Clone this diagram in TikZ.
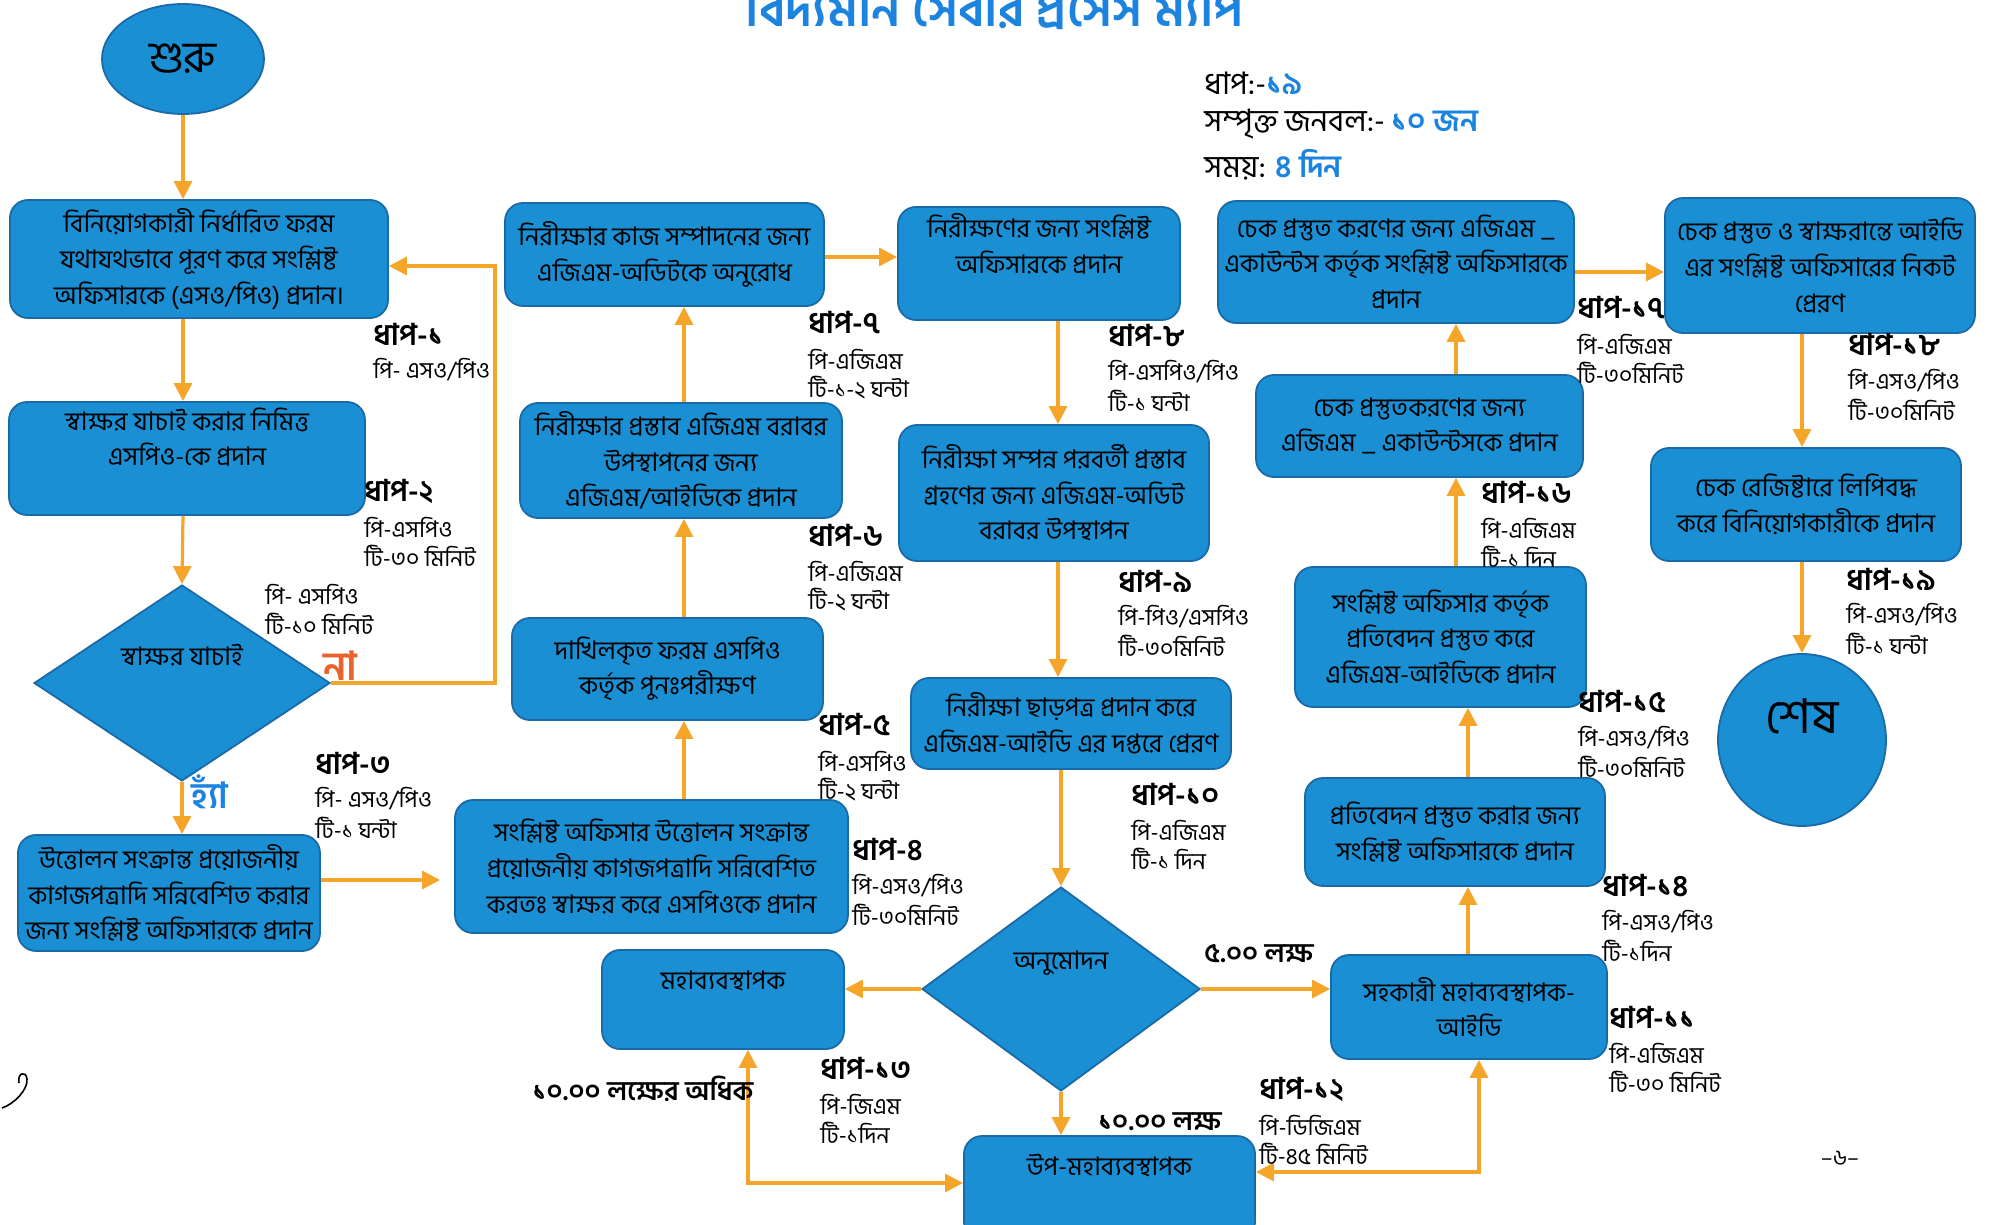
\documentclass[tikz,border=0pt]{standalone}
\usepackage{fontspec}
\setmainfont[Script=Bengali]{Hind Siliguri}
\usetikzlibrary{arrows.meta,shapes.geometric,calc}
\definecolor{boxblue}{HTML}{1B8FD3}
\definecolor{boxedge}{HTML}{1A6AA8}
\definecolor{arrowor}{HTML}{F6A52B}
\definecolor{txtblue}{HTML}{1C84DE}
\definecolor{naor}{HTML}{E8642C}
\newcommand\stepnote[6]{%
  \node[steptitle] (#1) at (#2,#3) {#4};
  \node[stepsub] (#1a) at ([yshift=-18pt]#1.west) {#5};
  \node[stepsub] (#1b) at ([yshift=-32.5pt]#1.west) {#6};}
\tikzset{
  box/.style={draw=boxedge, line width=0.9pt, fill=boxblue, rounded corners=9pt,
    align=center, inner sep=1pt, font=\fontsize{12.8}{17.8}\selectfont},
  dia/.style={diamond, draw=boxedge, line width=0.9pt, fill=boxblue, inner sep=0pt},
  oval/.style={ellipse, draw=boxedge, line width=0.9pt, fill=boxblue, inner sep=0pt},
  boxtext/.style={inner sep=0pt, align=center, font=\fontsize{12.8}{17.8}\selectfont},
  arr/.style={draw=arrowor, line width=1.6pt, -{Triangle[length=9pt,width=9pt]}},
  arrb/.style={draw=arrowor, line width=1.6pt, {Triangle[length=9pt,width=9pt]}-{Triangle[length=9pt,width=9pt]}},
  steptitle/.style={anchor=west, inner sep=0pt, font=\fontsize{15}{18}\selectfont\bfseries},
  stepsub/.style={anchor=west, inner sep=0pt, font=\fontsize{11.5}{14}\selectfont},
  cond/.style={inner sep=0pt, font=\fontsize{13.5}{16}\selectfont\bfseries},
  info/.style={anchor=west, inner sep=0pt, font=\fontsize{15.5}{19}\selectfont},
}
\begin{document}
\begin{tikzpicture}[x=0.5pt, y=-0.5pt]
\useasboundingbox[fill=white] (0,0) rectangle (1994,1225);

% title (cut at top edge as in the reference)
\node[anchor=south, inner sep=0pt, text=txtblue, font=\fontsize{25}{28}\selectfont\bfseries] (title) at (995,30) {বিদ্যমান সেবার প্রসেস ম্যাপ};

% info
\node[info] (i1) at (1204,83) {ধাপ:-{\bfseries\color{txtblue}১৯}};
\node[info] (i2) at (1204,124) {সম্পৃক্ত জনবল:- {\bfseries\color{txtblue}১০ জন}};
\node[info] (i3) at (1204,165) {সময়: {\bfseries\color{txtblue}৪ দিন}};

% nodes
\node[oval, minimum width=81pt, minimum height=55pt, font=\fontsize{22}{26}\selectfont] (S) at (183,59) {শুরু};
\node[box, minimum width=189pt, minimum height=59pt] (B1) at (199,259) {বিনিয়োগকারী নির্ধারিত ফরম\\যথাযথভাবে পূরণ করে সংশ্লিষ্ট\\অফিসারকে (এসও/পিও) প্রদান।};
\node[box, minimum width=178pt, minimum height=56.5pt] (B2) at (187,458.5) {স্বাক্ষর যাচাই করার নিমিত্ত\\এসপিও-কে প্রদান\\[4pt]};
\node[dia, minimum width=148pt, minimum height=98pt] (D1) at (182,683) {};
\node[boxtext] (D1t) at (182,655) {স্বাক্ষর যাচাই};
\node[box, minimum width=151pt, minimum height=58pt] (B3) at (169,893) {উত্তোলন সংক্রান্ত প্রয়োজনীয়\\কাগজপত্রাদি সন্নিবেশিত করার\\জন্য সংশ্লিষ্ট অফিসারকে প্রদান};
\node[box, minimum width=196.5pt, minimum height=66.5pt] (B4) at (651.5,866.5) {সংশ্লিষ্ট অফিসার উত্তোলন সংক্রান্ত\\প্রয়োজনীয় কাগজপত্রাদি সন্নিবেশিত\\করতঃ স্বাক্ষর করে এসপিওকে প্রদান};
\node[box, minimum width=155.5pt, minimum height=51pt] (B5) at (667.5,669) {দাখিলকৃত ফরম এসপিও\\কর্তৃক পুনঃপরীক্ষণ};
\node[box, minimum width=161pt, minimum height=57.5pt] (B6) at (681,460.5) {নিরীক্ষার প্রস্তাব এজিএম বরাবর\\উপস্থাপনের জন্য\\এজিএম/আইডিকে প্রদান};
\node[box, minimum width=159.5pt, minimum height=51.5pt] (B7) at (664.5,254.5) {নিরীক্ষার কাজ সম্পাদনের জন্য\\এজিএম-অডিটকে অনুরোধ};
\node[box, minimum width=141pt, minimum height=56.5pt] (B8) at (1039,263.5) {নিরীক্ষণের জন্য সংশ্লিষ্ট\\অফিসারকে প্রদান\\[2pt]};
\node[box, minimum width=155pt, minimum height=68pt] (B9) at (1054,493) {নিরীক্ষা সম্পন্ন পরবর্তী প্রস্তাব\\গ্রহণের জন্য এজিএম-অডিট\\বরাবর উপস্থাপন};
\node[box, minimum width=160pt, minimum height=45.5pt] (B10) at (1071,723.5) {নিরীক্ষা ছাড়পত্র প্রদান করে\\এজিএম-আইডি এর দপ্তরে প্রেরণ};
\node[dia, minimum width=139pt, minimum height=102pt] (D2) at (1061,989) {};
\node[boxtext] (D2t) at (1061,963) {অনুমোদন};
\node[box, minimum width=121pt, minimum height=49.5pt] (GM) at (723,999.5) {};
\node[boxtext] (GMt) at (723,981) {মহাব্যবস্থাপক};
\node[box, minimum width=145.5pt, minimum height=52pt] (DGM) at (1109.5,1188) {};
\node[boxtext] (DGMt) at (1109.5,1166) {উপ-মহাব্যবস্থাপক};
\node[box, minimum width=138pt, minimum height=52pt] (AGM) at (1469,1007) {সহকারী মহাব্যবস্থাপক-\\আইডি};
\node[box, minimum width=150pt, minimum height=54pt] (B14) at (1455,832) {প্রতিবেদন প্রস্তুত করার জন্য\\সংশ্লিষ্ট অফিসারকে প্রদান};
\node[box, minimum width=145.5pt, minimum height=70pt] (B15) at (1440.5,637) {সংশ্লিষ্ট অফিসার কর্তৃক\\প্রতিবেদন প্রস্তুত করে\\এজিএম-আইডিকে প্রদান};
\node[box, minimum width=163.5pt, minimum height=51pt] (B16) at (1419.5,426) {চেক প্রস্তুতকরণের জন্য\\এজিএম \_ একাউন্টসকে প্রদান};
\node[box, minimum width=178pt, minimum height=61pt] (B17) at (1396,262) {চেক প্রস্তুত করণের জন্য এজিএম \_\\একাউন্টস কর্তৃক সংশ্লিষ্ট অফিসারকে\\প্রদান};
\node[box, minimum width=155pt, minimum height=67.5pt] (B18) at (1820,265.5) {চেক প্রস্তুত ও স্বাক্ষরান্তে আইডি\\এর সংশ্লিষ্ট অফিসারের নিকট\\প্রেরণ};
\node[box, minimum width=155pt, minimum height=56.5pt] (B19) at (1806,504.5) {চেক রেজিষ্টারে লিপিবদ্ধ\\করে বিনিয়োগকারীকে প্রদান};
\node[oval, minimum width=84pt, minimum height=86pt] (E) at (1802,740) {};
\node[inner sep=0pt, font=\fontsize{24}{28}\selectfont] (Et) at (1802,716) {শেষ};

% helper coordinates
\coordinate (nx) at (495,266);
\coordinate (r34) at (0,880);
\coordinate (c2) at (684,0);
\coordinate (r78) at (0,257);
\coordinate (c3) at (1058,0);
\coordinate (g) at (748,1183);
\coordinate (h) at (1479,1172);
\coordinate (c4) at (1468,0);
\coordinate (c5) at (1456,0);
\coordinate (r1718) at (0,272);

% connectors
\draw[arr] (S.south) -- (S.south |- B1.north);
\draw[arr] (B1.south -| S) -- (B2.north -| S);
\draw[arr] (B2.south -| S) -- (D1.north);
\draw[arr] (D1.south) -- (D1.south |- B3.north);
\draw[arr] (D1.east) -- (D1.east -| nx) -- (nx) -- (nx -| B1.east);
\draw[arr, shorten >=7pt] (B3.east |- r34) -- (B4.west |- r34);
\draw[arr] (B4.north -| c2) -- (B5.south -| c2);
\draw[arr] (B5.north -| c2) -- (B6.south -| c2);
\draw[arr] (B6.north -| c2) -- (B7.south -| c2);
\draw[arr] (B7.east |- r78) -- (B8.west |- r78);
\draw[arr] (B8.south -| c3) -- (B9.north -| c3);
\draw[arr] (B9.south -| c3) -- (B10.north -| c3);
\draw[arr] (B10.south -| D2) -- (D2.north);
\draw[arr] (D2.west) -- (D2.west -| GM.east);
\draw[arr] (D2.east) -- (D2.east -| AGM.west);
\draw[arr] (D2.south) -- (D2.south |- DGM.north);
\draw[arrb] (GM.south -| g) -- (g) -- (g -| DGM.west);
\draw[arrb] (AGM.south -| h) -- (h) -- (h -| DGM.east);
\draw[arr] (AGM.north -| c4) -- (B14.south -| c4);
\draw[arr] (B14.north -| c4) -- (B15.south -| c4);
\draw[arr] (B15.north -| c5) -- (B16.south -| c5);
\draw[arr] (B16.north -| c5) -- (B17.south -| c5);
\draw[arr] (B17.east |- r1718) -- (B18.west |- r1718);
\draw[arr] (B18.south -| E) -- (B19.north -| E);
\draw[arr] (B19.south -| E) -- (E.north);

% decision labels
\node[inner sep=0pt, text=naor, font=\fontsize{20}{24}\selectfont\bfseries] (na) at (340,666) {না};
\node[inner sep=0pt, text=txtblue, font=\fontsize{18}{22}\selectfont\bfseries] (ha) at (210,792) {হ্যাঁ};
\node[stepsub] (d1a) at (265,594) {পি- এসপিও};
\node[stepsub] (d1b) at (265,624) {টি-১০ মিনিট};
\node[cond] (c5l) at (1259,954) {৫.০০ লক্ষ};
\node[cond] (c10l) at (1160,1122) {১০.০০ লক্ষ};
\node[cond] (c10m) at (643,1089) {১০.০০ লক্ষের অধিক};

% step notes
\node[steptitle] (s1) at (373,334) {ধাপ-১};
\node[stepsub] (s1a) at ([yshift=-18pt]s1.west) {পি- এসও/পিও};
\stepnote{s2}{364}{491}{ধাপ-২}{পি-এসপিও}{টি-৩০ মিনিট}
\stepnote{s3}{315}{763}{ধাপ-৩}{পি- এসও/পিও}{টি-১ ঘন্টা}
\stepnote{s4}{852}{850}{ধাপ-৪}{পি-এসও/পিও}{টি-৩০মিনিট}
\stepnote{s5}{818}{725}{ধাপ-৫}{পি-এসপিও}{টি-২ ঘন্টা}
\stepnote{s6}{808}{535}{ধাপ-৬}{পি-এজিএম}{টি-২ ঘন্টা}
\stepnote{s7}{808}{323}{ধাপ-৭}{পি-এজিএম}{টি-১-২ ঘন্টা}
\stepnote{s8}{1108}{336}{ধাপ-৮}{পি-এসপিও/পিও}{টি-১ ঘন্টা}
\stepnote{s9}{1118}{581}{ধাপ-৯}{পি-পিও/এসপিও}{টি-৩০মিনিট}
\stepnote{s10}{1131}{794}{ধাপ-১০}{পি-এজিএম}{টি-১ দিন}
\stepnote{s11}{1609}{1017}{ধাপ-১১}{পি-এজিএম}{টি-৩০ মিনিট}
\stepnote{s12}{1259}{1089}{ধাপ-১২}{পি-ডিজিএম}{টি-৪৫ মিনিট}
\stepnote{s13}{820}{1068}{ধাপ-১৩}{পি-জিএম}{টি-১দিন}
\stepnote{s14}{1602}{886}{ধাপ-১৪}{পি-এসও/পিও}{টি-১দিন}
\stepnote{s15}{1578}{702}{ধাপ-১৫}{পি-এসও/পিও}{টি-৩০মিনিট}
\stepnote{s16}{1481}{492}{ধাপ-১৬}{পি-এজিএম}{টি-১ দিন}
\stepnote{s17}{1577}{308}{ধাপ-১৭}{পি-এজিএম}{টি-৩০মিনিট}
\stepnote{s18}{1848}{345}{ধাপ-১৮}{পি-এসও/পিও}{টি-৩০মিনিট}
\stepnote{s19}{1846}{579}{ধাপ-১৯}{পি-এসও/পিও}{টি-১ ঘন্টা}

% page number and hand mark
\node[inner sep=0pt, font=\fontsize{11}{13}\selectfont] (pg) at (1840,1158) {–৬–};
\draw[line width=0.8pt] (2,1108) .. controls (14,1104) and (28,1090) .. (27,1079) .. controls (26,1070) and (17,1073) .. (19,1083);
\end{tikzpicture}
\end{document}
